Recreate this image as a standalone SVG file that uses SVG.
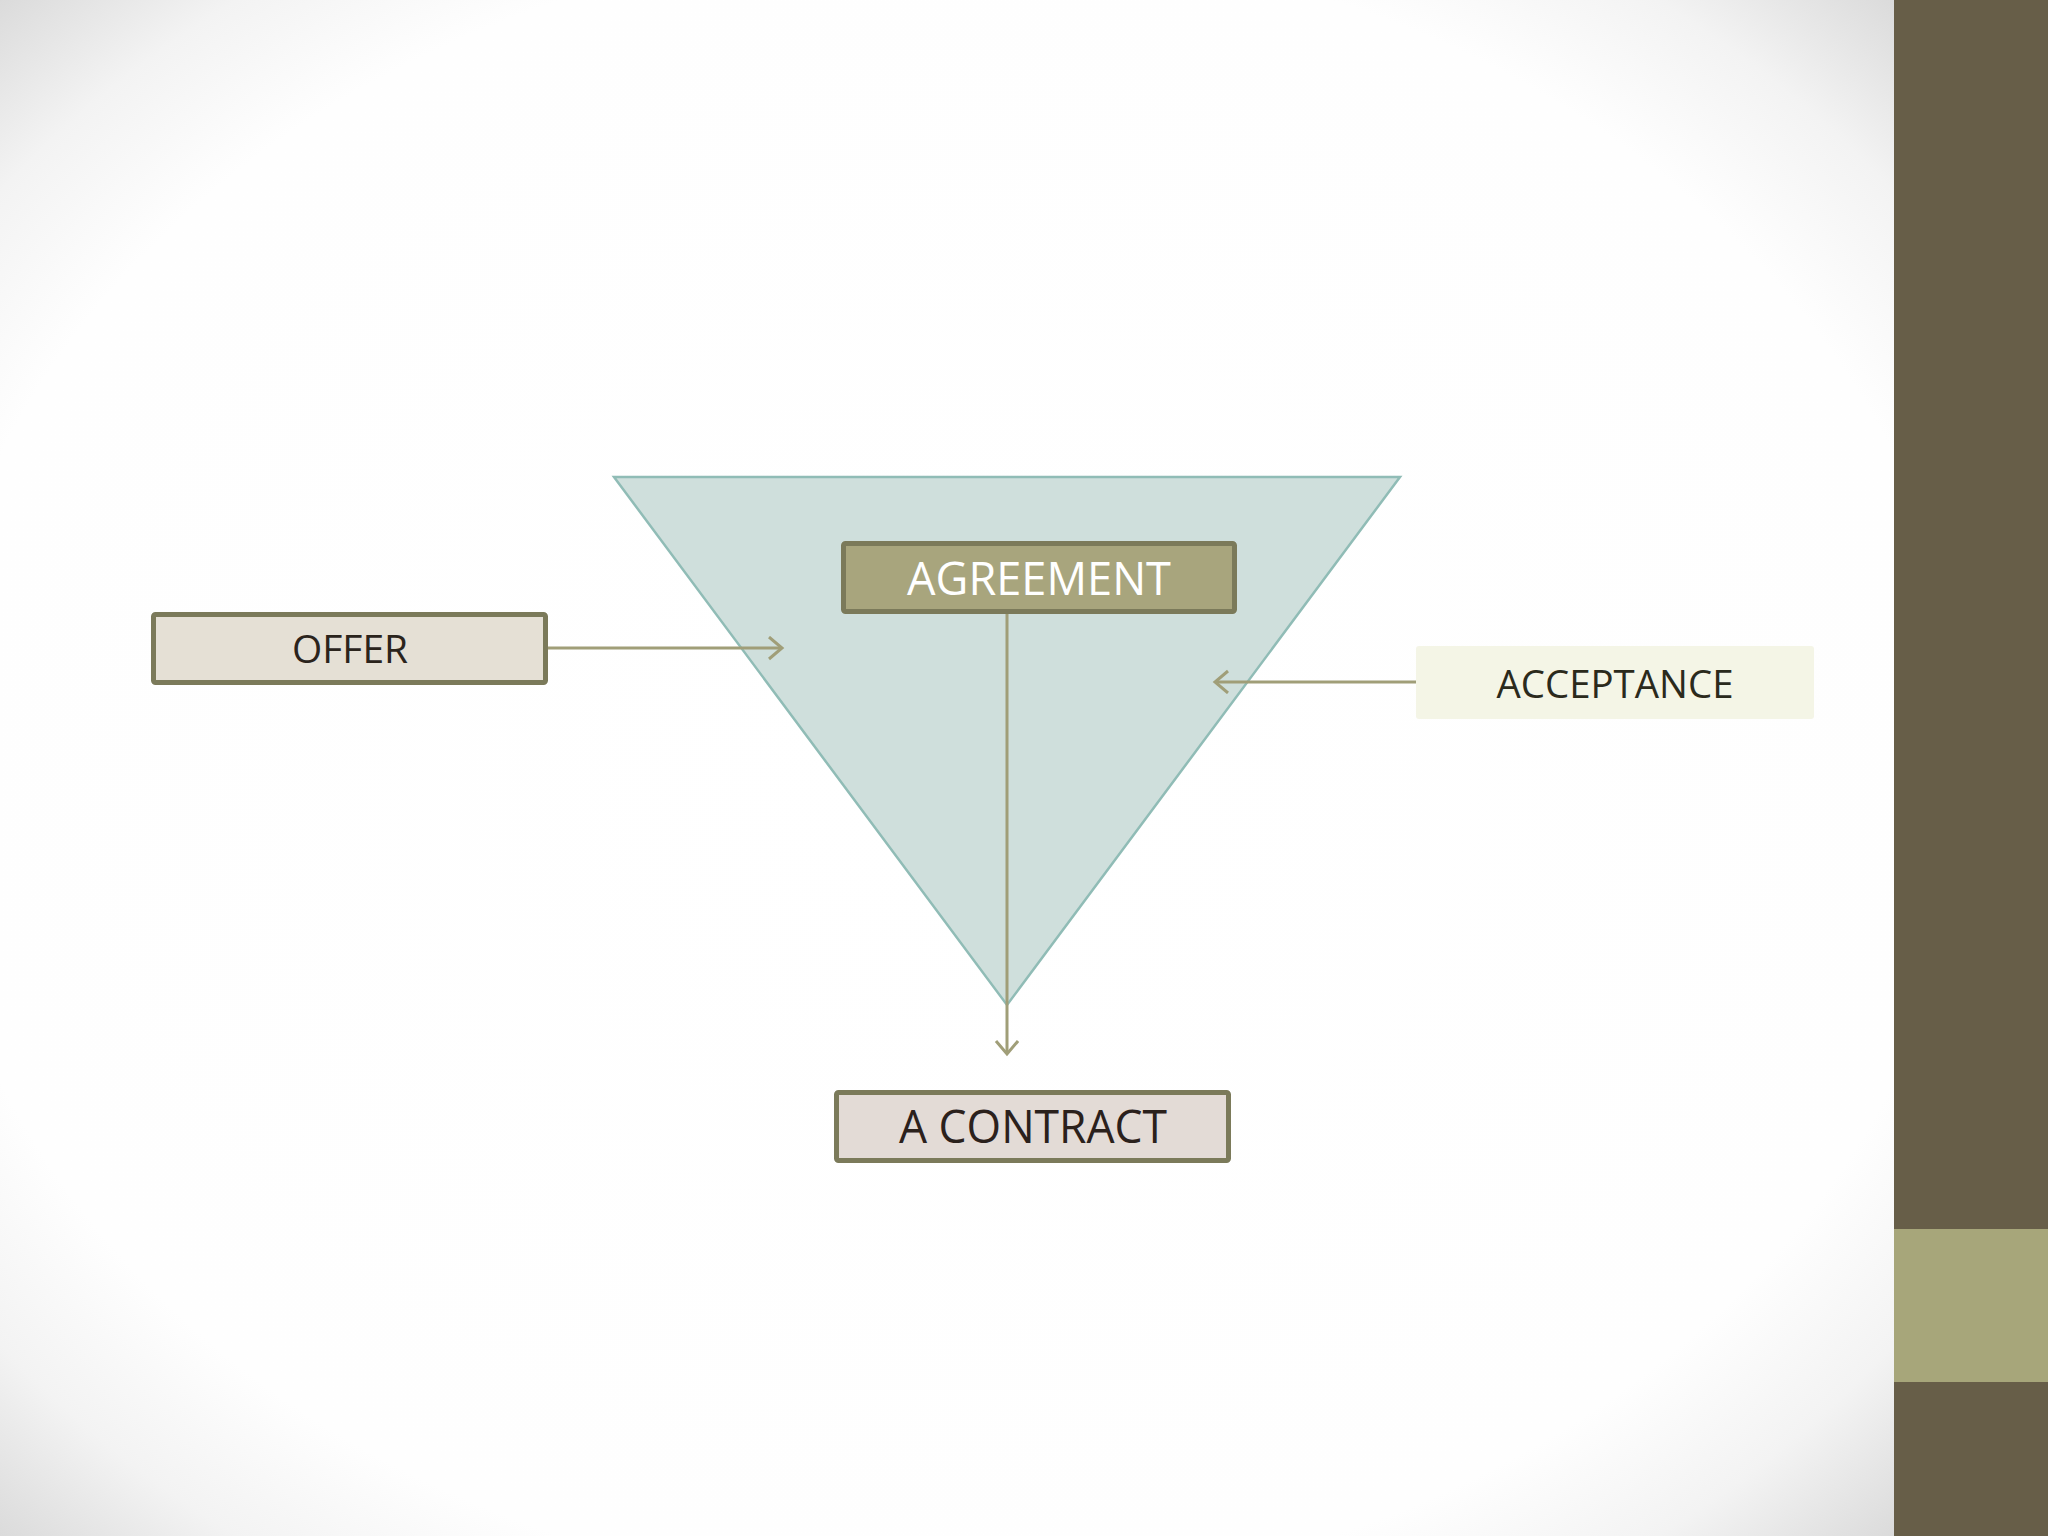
<svg xmlns="http://www.w3.org/2000/svg" width="2048" height="1536" viewBox="0 0 2048 1536">
  <defs>
    <radialGradient id="vig" cx="0.5" cy="0.5" r="0.71">
      <stop offset="0" stop-color="#ffffff"/>
      <stop offset="0.76" stop-color="#fefefe"/>
      <stop offset="0.88" stop-color="#f3f3f3"/>
      <stop offset="1" stop-color="#dadada"/>
    </radialGradient>
    <marker id="arr" markerUnits="userSpaceOnUse" markerWidth="30" markerHeight="30" refX="16" refY="12" orient="auto">
      <path d="M3,1 L16,12 L3,23" fill="none" stroke="#a09e78" stroke-width="3"/>
    </marker>
    <style>
      .box { stroke: #7b7a5a; stroke-width: 5; }
      .conn { stroke: #a09e78; stroke-width: 3; fill: none; marker-end: url(#arr); }
      .lbl { font-family: "Open Sans", "Liberation Sans", Arial, sans-serif; text-anchor: middle; }
    </style>
  </defs>

  <rect x="0" y="0" width="1894" height="1536" fill="url(#vig)"/>
  <g id="sidebar">
    <rect x="1894" y="0" width="154" height="1536" fill="#675e48"/>
    <rect x="1894" y="1229" width="154" height="153" fill="#a7a67a"/>
  </g>

  <g id="triangle">
    <polygon points="614,477 1400,477 1007,1005" fill="#cfdfdc" stroke="#90bcb6" stroke-width="2.5"/>
  </g>

  <g id="connectors">
    <line class="conn" x1="548" y1="648" x2="782" y2="648"/>
    <line class="conn" x1="1418" y1="682" x2="1215" y2="682"/>
    <line class="conn" x1="1007" y1="614" x2="1007" y2="1054"/>
  </g>

  <g id="agreement">
    <rect class="box" x="843.5" y="543.5" width="391" height="68" rx="2" fill="#a8a57d"/>
    <text class="lbl" x="1039" y="595" font-size="45" fill="#ffffff" textLength="264" lengthAdjust="spacingAndGlyphs">AGREEMENT</text>
  </g>

  <g id="offer">
    <rect class="box" x="153.5" y="614.5" width="392" height="68" rx="2" fill="#e5e0d5"/>
    <text class="lbl" x="350" y="663" font-size="39" fill="#2b241c" textLength="116" lengthAdjust="spacingAndGlyphs">OFFER</text>
  </g>

  <g id="acceptance">
    <rect x="1416" y="646" width="398" height="73" rx="3" fill="#f4f5e6"/>
    <text class="lbl" x="1615" y="698" font-size="39" fill="#2b2a1c" textLength="237" lengthAdjust="spacingAndGlyphs">ACCEPTANCE</text>
  </g>

  <g id="contract">
    <rect class="box" x="836.5" y="1092.5" width="392" height="68" rx="2" fill="#e3dbd6"/>
    <text class="lbl" x="1033" y="1143" font-size="45" fill="#2b211c" textLength="268" lengthAdjust="spacingAndGlyphs">A CONTRACT</text>
  </g>
</svg>
